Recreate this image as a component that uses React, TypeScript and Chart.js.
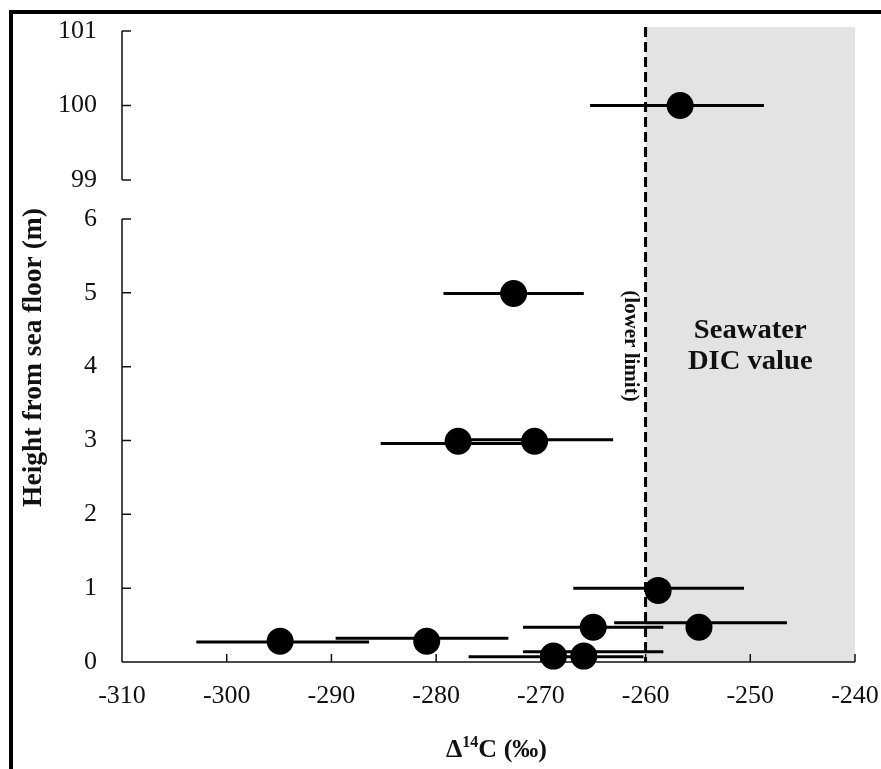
import React, { useEffect, useRef } from 'react';
import { Chart, registerables } from 'chart.js';

Chart.register(...registerables);

// ---- data ----
const xTickValues = [-310, -300, -290, -280, -270, -260, -250, -240];
const lowerTickValues = [0, 1, 2, 3, 4, 5, 6];
const upperTickValues = [99, 100, 101];

// lower panel (0–6 m)
const lowX = [-268.8, -265.9, -294.9, -280.9, -265.0, -254.9, -258.8, -277.9, -270.6, -272.6];
const lowY = [0.08, 0.08, 0.28, 0.28, 0.47, 0.47, 0.97, 2.99, 2.99, 4.99];
const lowErrMin = [-276.9, -271.7, -302.9, -289.6, -271.7, -263.0, -266.9, -285.3, -278.0, -279.3];
const lowErrMax = [-260.2, -258.3, -286.4, -273.1, -258.3, -246.5, -250.6, -270.5, -263.1, -265.9];
const lowErrY = [0.07, 0.14, 0.27, 0.32, 0.47, 0.53, 1.0, 2.96, 3.01, 4.99];

// upper panel (99–101 m)
const highX = [-256.7];
const highY = [100];
const highErrMin = [-265.3];
const highErrMax = [-248.7];
const highErrY = [100];

const lowerLimit = -260;
const seawaterFrom = -260;
const seawaterTo = -240;

const SERIF = '"Liberation Serif", "Times New Roman", serif';

const errorSets = [
  { axis: 'y', y: lowErrY, min: lowErrMin, max: lowErrMax },
  { axis: 'yTop', y: highErrY, min: highErrMin, max: highErrMax },
];

const zeroPadding = (s: any) => {
  s.paddingTop = 0;
  s.paddingBottom = 0;
  s.paddingLeft = 0;
  s.paddingRight = 0;
};

const overlayPlugin = {
  id: 'overlay',
  beforeDraw(chart: any) {
    const { ctx, width, height } = chart;
    ctx.save();
    ctx.fillStyle = '#ffffff';
    ctx.fillRect(0, 0, width, height);
    // outer frame (top & left visible)
    ctx.fillStyle = '#000000';
    ctx.fillRect(9, 10, 4, height);
    ctx.fillRect(9, 10, width, 4);
    ctx.restore();
  },
  beforeDatasetsDraw(chart: any) {
    const { ctx, chartArea, scales } = chart;
    const x = scales.x;
    const yb = scales.y;
    const yt = scales.yTop;
    ctx.save();
    // shaded seawater region
    const gx0 = x.getPixelForValue(seawaterFrom);
    const gx1 = x.getPixelForValue(seawaterTo);
    ctx.fillStyle = '#e3e3e3';
    ctx.fillRect(gx0, chartArea.top, gx1 - gx0, chartArea.bottom - chartArea.top);

    // axes
    ctx.strokeStyle = '#111';
    ctx.lineWidth = 1.5;
    const ax = chartArea.left;
    const tickLen = 9;
    ctx.beginPath();
    // upper y axis
    ctx.moveTo(ax, yt.getPixelForValue(upperTickValues[upperTickValues.length - 1]));
    ctx.lineTo(ax, yt.getPixelForValue(upperTickValues[0]));
    upperTickValues.forEach((v) => {
      const py = yt.getPixelForValue(v);
      ctx.moveTo(ax, py);
      ctx.lineTo(ax + tickLen, py);
    });
    // lower y axis
    ctx.moveTo(ax, yb.getPixelForValue(lowerTickValues[lowerTickValues.length - 1]));
    ctx.lineTo(ax, yb.getPixelForValue(lowerTickValues[0]));
    lowerTickValues.forEach((v) => {
      const py = yb.getPixelForValue(v);
      ctx.moveTo(ax, py);
      ctx.lineTo(ax + tickLen, py);
    });
    // x axis
    const by = yb.getPixelForValue(lowerTickValues[0]);
    ctx.moveTo(x.getPixelForValue(xTickValues[0]), by);
    ctx.lineTo(x.getPixelForValue(xTickValues[xTickValues.length - 1]), by);
    xTickValues.forEach((v) => {
      const px = x.getPixelForValue(v);
      ctx.moveTo(px, by);
      ctx.lineTo(px, by - 8);
    });
    ctx.stroke();

    // dashed lower-limit line
    const lx = x.getPixelForValue(lowerLimit);
    ctx.beginPath();
    ctx.setLineDash([10, 5]);
    ctx.lineWidth = 3;
    ctx.strokeStyle = '#000';
    ctx.moveTo(lx, chartArea.top);
    ctx.lineTo(lx, chartArea.bottom);
    ctx.stroke();
    ctx.setLineDash([]);

    // error bars
    ctx.lineWidth = 3;
    ctx.strokeStyle = '#000';
    errorSets.forEach((set) => {
      const ys = scales[set.axis];
      ctx.beginPath();
      set.y.forEach((yv, i) => {
        const py = ys.getPixelForValue(yv);
        ctx.moveTo(x.getPixelForValue(set.min[i]), py);
        ctx.lineTo(x.getPixelForValue(set.max[i]), py);
      });
      ctx.stroke();
    });
    ctx.restore();
  },
  afterDatasetsDraw(chart: any) {
    const { ctx, chartArea, scales } = chart;
    const x = scales.x;
    const yb = scales.y;
    ctx.save();
    ctx.fillStyle = '#111';
    // (lower limit)
    const lx = x.getPixelForValue(lowerLimit);
    ctx.save();
    ctx.translate(lx - 15, yb.getPixelForValue(4.28));
    ctx.rotate(Math.PI / 2);
    ctx.font = `bold 21px ${SERIF}`;
    ctx.textAlign = 'center';
    ctx.textBaseline = 'middle';
    ctx.fillText('(lower limit)', 0, 0);
    ctx.restore();

    // Seawater DIC value
    const cx = (x.getPixelForValue(seawaterFrom) + x.getPixelForValue(seawaterTo)) / 2;
    ctx.font = `bold 27px ${SERIF}`;
    ctx.textAlign = 'center';
    ctx.textBaseline = 'alphabetic';
    ctx.save();
    ctx.translate(cx, yb.getPixelForValue(4.39));
    ctx.scale(1.06, 1);
    ctx.fillText('Seawater', 0, 0);
    ctx.restore();
    ctx.save();
    ctx.translate(cx, yb.getPixelForValue(3.97));
    ctx.scale(1.06, 1);
    ctx.fillText('DIC value', 0, 0);
    ctx.restore();

    // y axis title
    ctx.save();
    ctx.translate(34, (chartArea.top + chartArea.bottom) / 2 + 13);
    ctx.rotate(-Math.PI / 2);
    ctx.font = `bold 27.5px ${SERIF}`;
    ctx.textAlign = 'center';
    ctx.textBaseline = 'middle';
    ctx.fillText('Height from sea floor (m)', 0, 0);
    ctx.restore();

    // x axis title: Δ14C (‰) with superscript
    const big = `bold 26px ${SERIF}`;
    const small = `bold 16px ${SERIF}`;
    ctx.font = big;
    const wD = ctx.measureText('\u0394').width;
    const wRest = ctx.measureText('C (\u2030)').width;
    ctx.font = small;
    const wSup = ctx.measureText('14').width;
    const total = wD + wSup + wRest;
    const xc = (chartArea.left + chartArea.right) / 2 + 8;
    const baseY = 757;
    ctx.textAlign = 'left';
    ctx.textBaseline = 'alphabetic';
    let cur = xc - total / 2;
    ctx.font = big;
    ctx.fillText('\u0394', cur, baseY);
    cur += wD;
    ctx.font = small;
    ctx.fillText('14', cur, baseY - 10);
    cur += wSup;
    ctx.font = big;
    ctx.fillText('C (\u2030)', cur, baseY);
    ctx.restore();
  },
};

export default function App() {
  const canvasRef = useRef<HTMLCanvasElement | null>(null);

  useEffect(() => {
    const canvas = canvasRef.current;
    if (!canvas) return;
    const tickFont = { family: SERIF, size: 26 };
    const chart = new Chart(canvas, {
      type: 'scatter',
      data: {
        datasets: [
          {
            data: lowX.map((v, i) => ({ x: v, y: lowY[i] })),
            yAxisID: 'y',
            backgroundColor: '#000',
            borderWidth: 0,
            pointRadius: 13.5,
            clip: false as any,
          },
          {
            data: highX.map((v, i) => ({ x: v, y: highY[i] })),
            yAxisID: 'yTop',
            backgroundColor: '#000',
            borderWidth: 0,
            pointRadius: 13.5,
            clip: false as any,
          },
        ],
      },
      options: {
        animation: false,
        responsive: false,
        maintainAspectRatio: false,
        devicePixelRatio: 1,
        events: [],
        layout: { padding: { left: 0, top: 27, right: 26, bottom: 0 } },
        plugins: {
          legend: { display: false },
          tooltip: { enabled: false },
        },
        scales: {
          x: {
            type: 'linear',
            position: 'bottom',
            min: xTickValues[0],
            max: xTickValues[xTickValues.length - 1],
            afterBuildTicks: (s: any) => {
              s.ticks = xTickValues.map((v) => ({ value: v }));
            },
            afterFit: (s: any) => {
              s.height = 107;
              zeroPadding(s);
            },
            ticks: { font: tickFont, color: '#111', padding: 19, maxRotation: 0, autoSkip: false },
            grid: { display: false, drawTicks: false, tickLength: 0 },
            border: { display: false },
          },
          y: {
            type: 'linear',
            position: 'left',
            stack: 'heights',
            stackWeight: 443,
            min: 0,
            max: 6,
            afterBuildTicks: (s: any) => {
              s.ticks = lowerTickValues.map((v) => ({ value: v }));
            },
            afterFit: (s: any) => {
              s.width = 122;
              zeroPadding(s);
            },
            ticks: { font: tickFont, color: '#111', padding: 25, autoSkip: false },
            grid: { display: false, drawTicks: false, tickLength: 0 },
            border: { display: false },
          },
          yTop: {
            type: 'linear',
            position: 'left',
            stack: 'heights',
            stackWeight: 192,
            min: 98.477,
            max: 101.054,
            afterBuildTicks: (s: any) => {
              s.ticks = upperTickValues.map((v) => ({ value: v }));
            },
            afterFit: (s: any) => {
              s.width = 122;
              zeroPadding(s);
            },
            ticks: { font: tickFont, color: '#111', padding: 25, autoSkip: false },
            grid: { display: false, drawTicks: false, tickLength: 0 },
            border: { display: false },
          },
        },
      } as any,
      plugins: [overlayPlugin],
    });
    return () => {
      chart.destroy();
    };
  }, []);

  return (
    <div
      style={{
        position: 'fixed',
        left: 0,
        top: 0,
        width: 881,
        height: 769,
        background: '#ffffff',
        overflow: 'hidden',
      }}
    >
      <canvas ref={canvasRef} width={881} height={769} style={{ display: 'block' }} />
    </div>
  );
}
